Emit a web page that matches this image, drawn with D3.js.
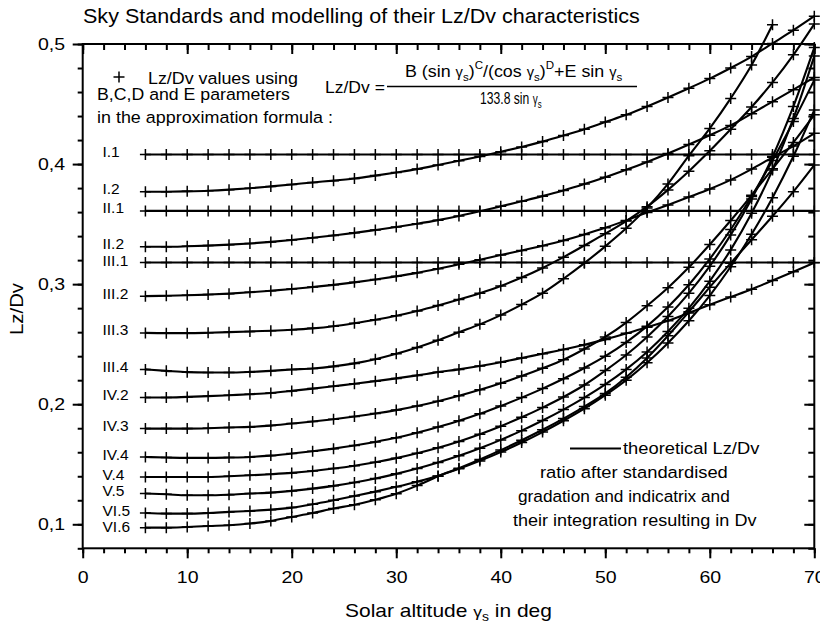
<!DOCTYPE html>
<html>
<head>
<meta charset="utf-8">
<script src="https://cdn.jsdelivr.net/npm/d3@7"></script>
<style>
  html, body { margin: 0; padding: 0; background: #fff; }
  svg { display: block; font-family: "Liberation Sans", Arial, Helvetica, sans-serif; }
</style>
</head>
<body>
<svg id="chart" width="820" height="626"></svg>
<script>
// Solar altitude (deg) at which each Lz/Dv value is given
const altitude = [6, 8, 10, 12, 14, 16, 18, 20, 22, 24, 26, 28, 30, 32, 34, 36, 38,
                  40, 42, 44, 46, 48, 50, 52, 54, 56, 58, 60, 62, 64, 66, 68, 70];

// Lz/Dv ratio for each sky standard
const lzdvI1 = [0.408, 0.408, 0.408, 0.408, 0.408, 0.408, 0.408, 0.408, 0.408, 0.408, 0.408,
                0.408, 0.408, 0.408, 0.408, 0.408, 0.408, 0.408, 0.408, 0.408, 0.408, 0.408,
                0.408, 0.408, 0.408, 0.408, 0.408, 0.408, 0.408, 0.408, 0.408, 0.408, 0.408];
const lzdvI2 = [0.3769, 0.3770, 0.3773, 0.3778, 0.3787, 0.3799, 0.3814, 0.3830, 0.3847, 0.3862, 0.3880,
                0.3904, 0.3930, 0.3958, 0.3992, 0.4027, 0.4063, 0.4102, 0.4143, 0.4187, 0.4237, 0.4290,
                0.4350, 0.4410, 0.4480, 0.4555, 0.4632, 0.4712, 0.4800, 0.4895, 0.5005, 0.5115, 0.5232];
const lzdvII1 = [0.361, 0.361, 0.361, 0.361, 0.361, 0.361, 0.361, 0.361, 0.361, 0.361, 0.361,
                 0.361, 0.361, 0.361, 0.361, 0.361, 0.361, 0.361, 0.361, 0.361, 0.361, 0.361,
                 0.361, 0.361, 0.361, 0.361, 0.361, 0.361, 0.361, 0.361, 0.361, 0.361, 0.361];
const lzdvII2 = [0.3311, 0.3311, 0.3315, 0.3321, 0.3329, 0.3339, 0.3352, 0.3368, 0.3386, 0.3406, 0.3427,
                 0.3451, 0.3476, 0.3503, 0.3533, 0.3568, 0.3607, 0.3648, 0.3690, 0.3733, 0.3780, 0.3833,
                 0.3890, 0.3952, 0.4018, 0.4088, 0.4163, 0.4240, 0.4322, 0.4420, 0.4520, 0.4620, 0.4722];
const lzdvIII1 = [0.318, 0.318, 0.318, 0.318, 0.318, 0.318, 0.318, 0.318, 0.318, 0.318, 0.318,
                  0.318, 0.318, 0.318, 0.318, 0.318, 0.318, 0.318, 0.318, 0.318, 0.318, 0.318,
                  0.318, 0.318, 0.318, 0.318, 0.318, 0.318, 0.318, 0.318, 0.318, 0.318, 0.318];
const lzdvIII2 = [0.2900, 0.2903, 0.2907, 0.2913, 0.2921, 0.2932, 0.2945, 0.2959, 0.2976, 0.2994, 0.3015,
                  0.3039, 0.3065, 0.3094, 0.3128, 0.3165, 0.3203, 0.3242, 0.3280, 0.3320, 0.3364, 0.3414,
                  0.3469, 0.3531, 0.3597, 0.3660, 0.3725, 0.3792, 0.3868, 0.3958, 0.4056, 0.4150, 0.4256];
const lzdvIII3 = [0.2594, 0.2592, 0.2592, 0.2595, 0.2600, 0.2606, 0.2612, 0.2620, 0.2632, 0.2650, 0.2675,
                  0.2703, 0.2736, 0.2776, 0.2822, 0.2872, 0.2925, 0.2985, 0.3055, 0.3135, 0.3225, 0.3322,
                  0.3420, 0.3525, 0.3645, 0.3785, 0.3940, 0.4110, 0.4290, 0.4475, 0.4680, 0.4910, 0.5167];
const lzdvIII4 = [0.2290, 0.2278, 0.2267, 0.2264, 0.2264, 0.2269, 0.2278, 0.2289, 0.2298, 0.2315, 0.2340,
                  0.2375, 0.2420, 0.2473, 0.2533, 0.2600, 0.2665, 0.2742, 0.2830, 0.2925, 0.3045, 0.3175,
                  0.3315, 0.3465, 0.3635, 0.3835, 0.4070, 0.4297, 0.4547, 0.4825, 0.5160];
const lzdvIV2 = [0.2056, 0.2056, 0.2061, 0.2067, 0.2075, 0.2083, 0.2094, 0.2111, 0.2130, 0.2150, 0.2170,
                 0.2192, 0.2215, 0.2240, 0.2267, 0.2290, 0.2318, 0.2350, 0.2385, 0.2420, 0.2455, 0.2495,
                 0.2540, 0.2590, 0.2640, 0.2695, 0.2760, 0.2828, 0.2893, 0.2958, 0.3030, 0.3103, 0.3178];
const lzdvIV3 = [0.1797, 0.1797, 0.1797, 0.1800, 0.1806, 0.1811, 0.1822, 0.1839, 0.1856, 0.1875, 0.1897,
                 0.1922, 0.1951, 0.1985, 0.2025, 0.2070, 0.2120, 0.2175, 0.2235, 0.2300, 0.2370, 0.2460,
                 0.2560, 0.2680, 0.2820, 0.2970, 0.3140, 0.3330, 0.3530, 0.3740, 0.3960, 0.4180, 0.4410];
const lzdvIV4 = [0.1561, 0.1556, 0.1553, 0.1553, 0.1556, 0.1561, 0.1572, 0.1589, 0.1608, 0.1630, 0.1656,
                 0.1686, 0.1720, 0.1762, 0.1810, 0.1862, 0.1920, 0.1985, 0.2055, 0.2130, 0.2212, 0.2302,
                 0.2400, 0.2515, 0.2650, 0.2810, 0.2995, 0.3210, 0.3455, 0.3730, 0.4030, 0.4355, 0.4700];
const lzdvV4 = [0.1394, 0.1394, 0.1394, 0.1394, 0.1400, 0.1408, 0.1417, 0.1428, 0.1444, 0.1464, 0.1488,
                0.1517, 0.1551, 0.1591, 0.1637, 0.1690, 0.1750, 0.1817, 0.1891, 0.1972, 0.2060, 0.2160,
                0.2280, 0.2410, 0.2560, 0.2730, 0.2925, 0.3150, 0.3410, 0.3710, 0.4060, 0.4480, 0.4970];
const lzdvV5 = [0.1256, 0.1250, 0.1242, 0.1242, 0.1247, 0.1256, 0.1264, 0.1278, 0.1297, 0.1320, 0.1348,
                0.1381, 0.1420, 0.1464, 0.1514, 0.1570, 0.1633, 0.1703, 0.1780, 0.1864, 0.1955, 0.2055,
                0.2165, 0.2290, 0.2435, 0.2605, 0.2800, 0.3025, 0.3285, 0.3590, 0.3950, 0.4380, 0.4900];
const lzdvVI5 = [0.1094, 0.1089, 0.1089, 0.1094, 0.1103, 0.1111, 0.1122, 0.1139, 0.1167, 0.1200, 0.1235,
                 0.1272, 0.1312, 0.1355, 0.1403, 0.1462, 0.1528, 0.1601, 0.1681, 0.1768, 0.1862, 0.1963,
                 0.2075, 0.2200, 0.2345, 0.2510, 0.2695, 0.2905, 0.3145, 0.3415, 0.3720, 0.4065, 0.4450];
const lzdvVI6 = [0.0972, 0.0972, 0.0978, 0.0986, 0.0992, 0.1006, 0.1028, 0.1061, 0.1094, 0.1131, 0.1163,
                 0.1205, 0.1255, 0.1322, 0.1400, 0.1467, 0.1540, 0.1618, 0.1700, 0.1787, 0.1880, 0.1980,
                 0.2090, 0.2225, 0.2385, 0.2570, 0.2770, 0.2975, 0.3175, 0.3370, 0.3565, 0.3770, 0.3992];

const standardNames = ["I.1", "I.2", "II.1", "II.2", "III.1", "III.2", "III.3", "III.4",
                       "IV.2", "IV.3", "IV.4", "V.4", "V.5", "VI.5", "VI.6"];
const standardValues = [lzdvI1, lzdvI2, lzdvII1, lzdvII2, lzdvIII1, lzdvIII2, lzdvIII3, lzdvIII4,
                        lzdvIV2, lzdvIV3, lzdvIV4, lzdvV4, lzdvV5, lzdvVI5, lzdvVI6];

const xMajorTicks = [0, 10, 20, 30, 40, 50, 60, 70];
const yMajorTicks = [0.1, 0.2, 0.3, 0.4, 0.5];

// ---------------------------------------------------------------
const svg = d3.select("#chart");
const plot = { left: 82.7, right: 814.3, top: 44, bottom: 548.3 };

const x = d3.scaleLinear().domain([0, 70]).range([plot.left, plot.right]);
const y = d3.scaleLinear().domain([0.08, 0.5]).range([plot.bottom, plot.top]);

const xMinor = x.ticks(35);
const yMinor = y.ticks(21);
const comma = v => d3.format(".1f")(v).replace(".", ",");
const TICK_STRETCH = 1.22;

function axisLayer(axis, tx, ty) {
  const g = svg.append("g").attr("transform", `translate(${tx},${ty})`).call(axis);
  g.select(".domain").remove();
  g.selectAll("line").attr("stroke", "#000").attr("stroke-width", 2);
  return g;
}

// minor ticks on all four sides (outer on left/bottom, inner on top/right)
axisLayer(d3.axisBottom(x).tickValues(xMinor).tickSize(5).tickFormat(""), 0, plot.bottom);
axisLayer(d3.axisTop(x).tickValues(xMinor).tickSize(-6).tickFormat(""), 0, plot.top);
axisLayer(d3.axisLeft(y).tickValues(yMinor).tickSize(5).tickFormat(""), plot.left, 0);
axisLayer(d3.axisRight(y).tickValues(yMinor).tickSize(-6).tickFormat(""), plot.right, 0);
axisLayer(d3.axisTop(x).tickValues(xMajorTicks).tickSize(-10).tickFormat(""), 0, plot.top);
axisLayer(d3.axisRight(y).tickValues(yMajorTicks).tickSize(-10).tickFormat(""), plot.right, 0);

// major ticks with labels
const xAxisG = axisLayer(d3.axisBottom(x).tickValues(xMajorTicks).tickSize(10).tickFormat(d3.format("d")), 0, plot.bottom);
xAxisG.selectAll("text")
  .attr("fill", "#000").attr("font-size", 16)
  .attr("y", 23.5).attr("x", 0)
  .attr("transform", `scale(${TICK_STRETCH},1)`);

const yAxisG = axisLayer(d3.axisLeft(y).tickValues(yMajorTicks).tickSize(10).tickFormat(comma), plot.left, 0);
yAxisG.selectAll("text")
  .attr("fill", "#000").attr("font-size", 16)
  .attr("x", 0)
  .attr("transform", `translate(-17.7,0) scale(${TICK_STRETCH},1)`);
svg.selectAll("g").attr("font-family", null);

// frame
svg.append("rect")
  .attr("x", plot.left).attr("y", plot.top)
  .attr("width", plot.right - plot.left).attr("height", plot.bottom - plot.top)
  .attr("fill", "none").attr("stroke", "#000").attr("stroke-width", 2);

// theoretical curves
const line = d3.line()
  .x(d => x(d[0]))
  .y(d => y(d[1]))
  .curve(d3.curveMonotoneX);

const series = standardNames.map((name, i) => ({
  name,
  points: standardValues[i].map((v, j) => [altitude[j], v])
}));

svg.append("g").selectAll("path")
  .data(series)
  .join("path")
  .attr("d", d => line(d.points))
  .attr("fill", "none")
  .attr("stroke", "#000")
  .attr("stroke-width", 2.1);

// approximation values as "+" marks
const plusPath = "M-5.5,0H5.5M0,-5.5V5.5";
svg.append("g").selectAll("g")
  .data(series)
  .join("g")
  .selectAll("path")
  .data(d => d.points)
  .join("path")
  .attr("d", plusPath)
  .attr("transform", d => `translate(${x(d[0])},${y(d[1])})`)
  .attr("stroke", "#000")
  .attr("stroke-width", 1.5)
  .attr("fill", "none");

// standard labels at the start of each curve, nudged apart where they crowd
const labelGap = 16.8;
const labels = series.map(s => ({ name: s.name, cy: y(s.points[0][1]) - 3 }))
  .sort((a, b) => a.cy - b.cy);
for (let i = 1; i < labels.length; i++) {
  if (labels[i].cy - labels[i - 1].cy < labelGap) labels[i].cy = labels[i - 1].cy + labelGap;
}
svg.append("g").selectAll("text")
  .data(labels)
  .join("text")
  .attr("x", 102.5)
  .attr("y", d => d.cy)
  .attr("dy", "0.36em")
  .attr("font-size", 15.5)
  .text(d => d.name);

// ---------------------------------------------------------------
// text blocks stretched to their measured widths
function fitted(xLeft, yBase, width, size, build, anchor = "start") {
  const g = svg.append("g");
  const t = g.append("text").attr("font-size", size).attr("text-anchor", anchor);
  build(t);
  const w = t.node().getBBox().width;
  g.attr("transform", `translate(${xLeft},${yBase}) scale(${width / w},1)`);
  return g;
}
const plain = s => t => t.text(s);

fitted(83, 23, 557, 20, plain("Sky Standards and modelling of their Lz/Dv characteristics"));

// marker legend
svg.append("path")
  .attr("d", plusPath)
  .attr("transform", "translate(119,77)")
  .attr("stroke", "#000").attr("stroke-width", 1.5);
fitted(148, 83.5, 150, 16.5, plain("Lz/Dv values using"));
fitted(97, 100, 193, 16.5, plain("B,C,D and E parameters"));
fitted(97, 122.5, 236, 16.5, plain("in the approximation formula :"));

// approximation formula
fitted(325, 93, 60, 17, plain("Lz/Dv ="));
svg.append("line")
  .attr("x1", 387).attr("x2", 637).attr("y1", 86.5).attr("y2", 86.5)
  .attr("stroke", "#000").attr("stroke-width", 1.5);
fitted(405, 77, 218, 17, t => {
  const gam = () => t.append("tspan").attr("font-size", 14).text("γ");
  const sub = s => { t.append("tspan").attr("font-size", 11).attr("dy", 4).text(s); };
  const sup = s => { t.append("tspan").attr("font-size", 11).attr("dy", -8).text(s); };
  t.append("tspan").text("B (sin ");
  gam(); sub("s");
  t.append("tspan").attr("dy", -4).text(")");
  sup("C");
  t.append("tspan").attr("dy", 8).text("/(cos ");
  gam(); sub("s");
  t.append("tspan").attr("dy", -4).text(")");
  sup("D");
  t.append("tspan").attr("dy", 8).text("+E sin ");
  gam(); sub("s");
});
fitted(480, 104, 62, 17, t => {
  t.append("tspan").text("133.8 sin ");
  t.append("tspan").attr("font-size", 14).text("γ");
  t.append("tspan").attr("font-size", 11).attr("dy", 4).text("s");
});

// line legend
svg.append("line")
  .attr("x1", 570).attr("x2", 621).attr("y1", 448.5).attr("y2", 448.5)
  .attr("stroke", "#000").attr("stroke-width", 2);
fitted(623, 454, 137, 17, plain("theoretical Lz/Dv"));
fitted(540, 478, 188, 17, plain("ratio after standardised"));
fitted(518, 501.5, 212, 17, plain("gradation and indicatrix and"));
fitted(513, 525.5, 244, 17, plain("their integration resulting in Dv"));

// axis titles
fitted(345, 617, 207, 18, t => {
  t.append("tspan").text("Solar altitude ");
  t.append("tspan").attr("font-size", 15).text("γ");
  t.append("tspan").attr("font-size", 12).attr("dy", 4).text("s");
  t.append("tspan").attr("dy", -4).text(" in deg");
});

{
  const g = svg.append("g");
  const t = g.append("text").attr("font-size", 18).attr("text-anchor", "middle").text("Lz/Dv");
  const w = t.node().getBBox().width;
  t.attr("dy", "0.36em");
  g.attr("transform", `translate(17,309) rotate(-90) scale(${52 / w},1)`);
}
</script>
</body>
</html>
